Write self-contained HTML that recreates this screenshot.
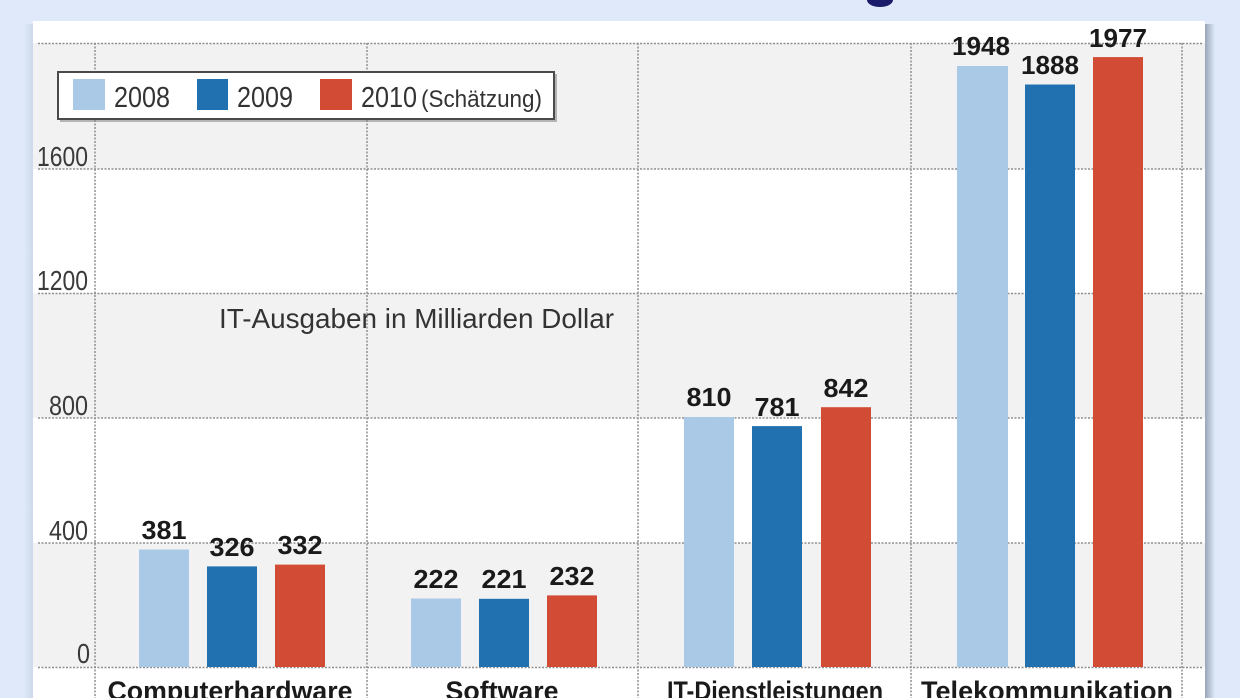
<!DOCTYPE html>
<html><head><meta charset="utf-8">
<style>
html,body{margin:0;padding:0;background:#dfe9f9;}
svg{display:block;}
text{font-family:"Liberation Sans",sans-serif;}
</style></head>
<body>
<svg width="1240" height="698" viewBox="0 0 1240 698" xmlns="http://www.w3.org/2000/svg">
<defs>
<linearGradient id="rs" x1="0" x2="1" y1="0" y2="0">
<stop offset="0" stop-color="#9aa6b8"/><stop offset="1" stop-color="#dfe9f9"/>
</linearGradient>
<linearGradient id="ls" x1="1" x2="0" y1="0" y2="0">
<stop offset="0" stop-color="#cdd9ec"/><stop offset="1" stop-color="#dfe9f9"/>
</linearGradient>
</defs>
<rect x="0" y="0" width="1240" height="698" fill="#dfe9f9"/>
<ellipse cx="880" cy="0" rx="13" ry="7" fill="#1b1b6b"/>
<!-- shadows -->
<rect x="1205" y="24" width="10" height="674" fill="url(#rs)"/>
<rect x="24" y="24" width="9" height="674" fill="url(#ls)"/>
<!-- panel -->
<rect x="33" y="21" width="1172" height="677" fill="#ffffff"/>
<rect x="33" y="43" width="1172" height="126" fill="#f2f2f2"/>
<rect x="33" y="293" width="1172" height="125" fill="#f2f2f2"/>
<rect x="33" y="543" width="1172" height="124" fill="#f2f2f2"/>
<!-- gridlines -->
<g stroke="#8f8f8f" stroke-width="1.5" stroke-dasharray="2,1.5" fill="none">
<line x1="38" y1="43.5" x2="1203" y2="43.5"/>
<line x1="38" y1="169" x2="1203" y2="169"/>
<line x1="38" y1="293.5" x2="1203" y2="293.5"/>
<line x1="38" y1="418" x2="1203" y2="418"/>
<line x1="38" y1="543" x2="1203" y2="543"/>
<line x1="38" y1="667.5" x2="1203" y2="667.5"/>
<line x1="95" y1="43" x2="95" y2="698"/>
<line x1="367" y1="43" x2="367" y2="698"/>
<line x1="638" y1="43" x2="638" y2="698"/>
<line x1="911" y1="43" x2="911" y2="698"/>
<line x1="1182" y1="43" x2="1182" y2="698"/>
</g>
<!-- y labels -->
<g fill="#3a3a3a" font-size="28" text-anchor="end">
<text x="88" y="166" textLength="51" lengthAdjust="spacingAndGlyphs">1600</text>
<text x="88" y="290" textLength="51" lengthAdjust="spacingAndGlyphs">1200</text>
<text x="88" y="415" textLength="39" lengthAdjust="spacingAndGlyphs">800</text>
<text x="88" y="540" textLength="39" lengthAdjust="spacingAndGlyphs">400</text>
<text x="90" y="663" textLength="13" lengthAdjust="spacingAndGlyphs">0</text>
</g>
<text x="219" y="328" font-size="28" fill="#333" textLength="395" lengthAdjust="spacingAndGlyphs">IT-Ausgaben in Milliarden Dollar</text>
<!-- bars -->
<g>
<rect x="139" y="549.5" width="50" height="117.5" fill="#a9c9e6"/>
<rect x="207" y="566.4" width="50" height="100.6" fill="#2171b0"/>
<rect x="275" y="564.6" width="50" height="102.4" fill="#d24b34"/>
<rect x="411" y="598.5" width="50" height="68.5" fill="#a9c9e6"/>
<rect x="479" y="598.8" width="50" height="68.2" fill="#2171b0"/>
<rect x="547" y="595.4" width="50" height="71.6" fill="#d24b34"/>
<rect x="684" y="417.1" width="50" height="249.9" fill="#a9c9e6"/>
<rect x="752" y="426.1" width="50" height="240.9" fill="#2171b0"/>
<rect x="821" y="407.2" width="50" height="259.8" fill="#d24b34"/>
<rect x="957" y="66" width="51" height="601" fill="#a9c9e6"/>
<rect x="1025" y="84.5" width="50" height="582.5" fill="#2171b0"/>
<rect x="1093" y="57.1" width="50" height="609.9" fill="#d24b34"/>
</g>
<!-- value labels -->
<g fill="#1a1a1a" font-size="26" font-weight="bold" text-anchor="middle">
<text x="164" y="539" textLength="45" lengthAdjust="spacingAndGlyphs">381</text>
<text x="232" y="556" textLength="45" lengthAdjust="spacingAndGlyphs">326</text>
<text x="300" y="554" textLength="45" lengthAdjust="spacingAndGlyphs">332</text>
<text x="436" y="588" textLength="45" lengthAdjust="spacingAndGlyphs">222</text>
<text x="504" y="588" textLength="45" lengthAdjust="spacingAndGlyphs">221</text>
<text x="572" y="585" textLength="45" lengthAdjust="spacingAndGlyphs">232</text>
<text x="709" y="406" textLength="45" lengthAdjust="spacingAndGlyphs">810</text>
<text x="777" y="416" textLength="45" lengthAdjust="spacingAndGlyphs">781</text>
<text x="846" y="397" textLength="45" lengthAdjust="spacingAndGlyphs">842</text>
<text x="981" y="55" textLength="58" lengthAdjust="spacingAndGlyphs">1948</text>
<text x="1050" y="74" textLength="58" lengthAdjust="spacingAndGlyphs">1888</text>
<text x="1118" y="47" textLength="58" lengthAdjust="spacingAndGlyphs">1977</text>
</g>
<!-- category labels -->
<g fill="#1a1a1a" font-size="27" font-weight="bold" text-anchor="middle">
<text x="230" y="700" textLength="245" lengthAdjust="spacingAndGlyphs">Computerhardware</text>
<text x="502" y="700" textLength="113" lengthAdjust="spacingAndGlyphs">Software</text>
<text x="775" y="700" textLength="216" lengthAdjust="spacingAndGlyphs">IT-Dienstleistungen</text>
<text x="1047" y="700" textLength="252" lengthAdjust="spacingAndGlyphs">Telekommunikation</text>
</g>
<!-- legend -->
<rect x="60" y="74" width="497" height="48" fill="#8a8a8a" opacity="0.6"/>
<rect x="58" y="72" width="496" height="47" fill="#ffffff" stroke="#4a4a4a" stroke-width="2"/>
<rect x="73" y="79" width="32" height="31" fill="#a9c9e6"/>
<rect x="197" y="79" width="31" height="31" fill="#2171b0"/>
<rect x="320" y="79" width="32" height="31" fill="#d24b34"/>
<g fill="#333" font-size="29">
<text x="114" y="107" textLength="56" lengthAdjust="spacingAndGlyphs">2008</text>
<text x="237" y="107" textLength="56" lengthAdjust="spacingAndGlyphs">2009</text>
<text x="361" y="107" textLength="56" lengthAdjust="spacingAndGlyphs">2010</text>
</g>
<text x="421" y="107" font-size="24" fill="#333" textLength="121" lengthAdjust="spacingAndGlyphs">(Schätzung)</text>
</svg>
</body></html>
